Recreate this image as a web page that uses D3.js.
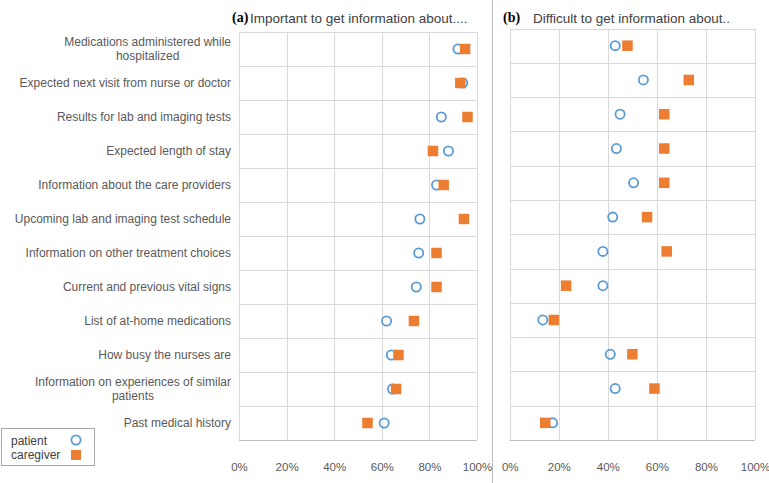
<!DOCTYPE html>
<html><head><meta charset="utf-8">
<script src="https://cdn.jsdelivr.net/npm/d3@7"></script>
<style>body{margin:0;background:#fff}svg{display:block}</style>
</head><body>
<svg id="c" width="769" height="483"></svg>
<script>
const categories = [
  ["Medications administered while", "hospitalized"],
  ["Expected next visit from nurse or doctor"],
  ["Results for lab and imaging tests"],
  ["Expected length of stay"],
  ["Information about the care providers"],
  ["Upcoming lab and imaging test schedule"],
  ["Information on other treatment choices"],
  ["Current and previous vital signs"],
  ["List of at-home medications"],
  ["How busy the nurses are"],
  ["Information on experiences of similar", "patients"],
  ["Past medical history"]
];
const importantPatient   = [92, 94, 85, 88, 83, 76, 75.5, 74.5, 62, 64, 64.5, 61];
const importantCaregiver = [95, 93, 96, 81.5, 86, 94.5, 83, 83, 73.5, 67, 66, 54];
const difficultPatient   = [43, 54.5, 45, 43.5, 50.5, 42, 38, 38, 13.5, 41, 43, 17.5];
const difficultCaregiver = [48, 73, 63, 63, 63, 56, 64, 23, 18, 50, 59, 14.5];
const tickValues = [0, 20, 40, 60, 80, 100];
const seriesNames = ["patient", "caregiver"];
const panelTitles = [["(a)", "Important to get information about...."], ["(b)", "Difficult to get information about.."]];

const svg = d3.select("#c");
const blue = "#5B9BD5", orange = "#ED7D31";
const font = "'Liberation Sans', Arial, sans-serif";

// separator
svg.append("line").attr("x1", 492.5).attr("x2", 492.5).attr("y1", 0).attr("y2", 483)
  .attr("stroke", "#bfbfbf").attr("stroke-width", 1);

const panels = [
  {x0: 239, x1: 477, y0: 32, y1: 440, p: importantPatient, c: importantCaregiver, t: panelTitles[0], tx: 232, gap: 18, labels: true},
  {x0: 509.7, x1: 755, y0: 28.5, y1: 440, p: difficultPatient, c: difficultCaregiver, t: panelTitles[1], tx: 503, gap: 30, labels: false}
];

panels.forEach(P => {
  const x = d3.scaleLinear().domain([0, 100]).range([P.x0, P.x1]);
  const y = d3.scaleBand().domain(d3.range(categories.length)).range([P.y0, P.y1]);
  const g = svg.append("g");
  // vertical gridlines
  g.selectAll("line.v").data(tickValues).join("line")
    .attr("x1", d => Math.round(x(d)) + 0.5).attr("x2", d => Math.round(x(d)) + 0.5)
    .attr("y1", P.y0).attr("y2", P.y1).attr("stroke", "#d9d9d9");
  // horizontal row lines
  g.selectAll("line.h").data(d3.range(categories.length + 1)).join("line")
    .attr("x1", P.x0).attr("x2", P.x1)
    .attr("y1", d => Math.round(P.y0 + d * y.step()) + 0.5).attr("y2", d => Math.round(P.y0 + d * y.step()) + 0.5)
    .attr("stroke", (d) => d === categories.length ? "#bfbfbf" : "#d9d9d9");
  // x axis
  const ax = d3.axisBottom(x).tickValues(tickValues).tickFormat(d => d + "%").tickSize(0).tickPadding(0);
  const axg = g.append("g").attr("transform", `translate(0,${471})`).call(ax);
  axg.select(".domain").remove();
  axg.selectAll("text").attr("font-family", font).attr("font-size", 11.5).attr("fill", "#595959")
    .attr("dy", 0).attr("y", 0);
  // title
  g.append("text").attr("x", P.tx).attr("y", 22).attr("font-family", "'Liberation Serif', 'Times New Roman', serif")
    .attr("font-weight", "bold").attr("font-size", 14).attr("fill", "#000").text(P.t[0]);
  g.append("text").attr("x", P.tx + P.gap).attr("y", 23).attr("font-family", font)
    .attr("font-size", 13.5).attr("fill", "#404040").text(P.t[1]);
  // category labels
  if (P.labels) {
    categories.forEach((lines, i) => {
      const cy = y(i) + y.bandwidth() / 2;
      const t = g.append("text").attr("font-family", font).attr("font-size", 12).attr("fill", "#595959");
      if (lines.length === 1) {
        t.attr("x", 231).attr("y", cy + 4).attr("text-anchor", "end").text(lines[0]);
      } else {
        const tmp = t.append("tspan").text(lines[0]);
        const w = tmp.node().getComputedTextLength();
        tmp.remove();
        t.attr("text-anchor", "middle");
        lines.forEach((ln, k) => {
          t.append("tspan").attr("x", 231 - w / 2).attr("y", cy - 3 + k * 13.5).text(ln);
        });
      }
    });
  }
  // patient circles
  g.selectAll("circle.p").data(P.p).join("circle")
    .attr("cx", d => x(d)).attr("cy", (d, i) => y(i) + y.bandwidth() / 2).attr("r", 4.6)
    .attr("fill", "none").attr("stroke", blue).attr("stroke-width", 1.8);
  // caregiver squares
  const s = 10.5;
  g.selectAll("rect.c").data(P.c).join("rect")
    .attr("x", d => x(d) - s / 2).attr("y", (d, i) => y(i) + y.bandwidth() / 2 - s / 2)
    .attr("width", s).attr("height", s).attr("fill", orange);
});

// legend
const lg = svg.append("g");
lg.append("rect").attr("x", 1.5).attr("y", 428.5).attr("width", 93).attr("height", 37)
  .attr("fill", "#fff").attr("stroke", "#a6a6a6");
seriesNames.forEach((n, i) => {
  lg.append("text").attr("x", 11).attr("y", 445 + i * 14).attr("font-family", font)
    .attr("font-size", 12).attr("fill", "#404040").text(n);
});
lg.append("circle").attr("cx", 76).attr("cy", 440).attr("r", 4.6).attr("fill", "none")
  .attr("stroke", blue).attr("stroke-width", 1.8);
lg.append("rect").attr("x", 71).attr("y", 450).attr("width", 10).attr("height", 10).attr("fill", orange);
</script>
</body></html>
